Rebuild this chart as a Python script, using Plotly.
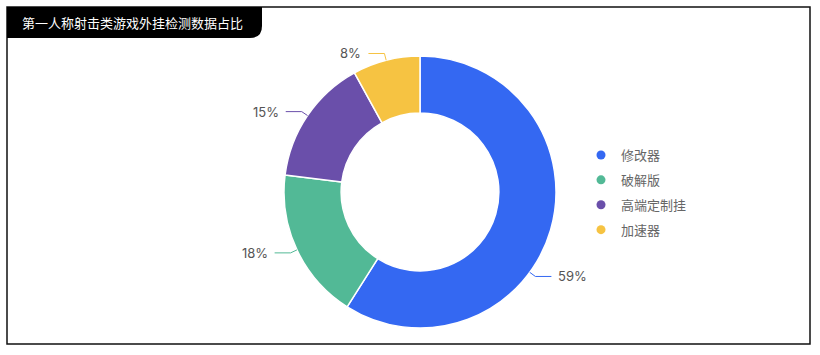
import math
import plotly.graph_objects as go

# ---- data ----
categories = ["修改器", "破解版", "高端定制挂", "加速器"]
values = [59, 18, 15, 8]
colors = ["#3468F2", "#52B996", "#6A4FAA", "#F6C342"]
title_text = "第一人称射击类游戏外挂检测数据占比"

# ---- layout constants ----
W, H = 820, 355
CX, CY, R = 420, 192, 136
HOLE = 0.58
label_angle_shift = [20, 0, 0, 0]  # degrees, nudge of label position (keeps first label clear of legend)
FONT = "Inter, 'Noto Sans CJK SC', sans-serif"


def px(x):
    return x / W


def py(y):
    return 1 - y / H


fig = go.Figure()
fig.add_trace(go.Pie(
    labels=categories, values=values, sort=False, direction="clockwise", rotation=0,
    hole=HOLE, marker=dict(colors=colors, line=dict(color="white", width=1.5)),
    textinfo="none", hoverinfo="label+percent", showlegend=False,
    domain=dict(x=[px(CX - R), px(CX + R)], y=[py(CY + R), py(CY - R)]),
))

# legend entries with round markers
for cat, col in zip(categories, colors):
    fig.add_trace(go.Scatter(x=[None], y=[None], mode="markers", name=cat, legendgroup=cat,
                             marker=dict(color=col, size=9, symbol="circle")))

shapes = []
annotations = []

# leader lines + percentage labels computed from data
total = sum(values)
cum = 0
for v, col, shift in zip(values, colors, label_angle_shift):
    mid = (cum + v / 2) / total
    cum += v
    th = 2 * math.pi * mid + math.radians(shift)
    s, c = math.sin(th), math.cos(th)
    ex, ey = CX + R * s, CY - R * c
    bx, by = CX + (R + 7) * s, CY - (R + 7) * c
    side = 1 if s >= 0 else -1
    tx = bx + side * 16
    shapes.append(dict(type="path", xref="paper", yref="paper",
                       path=f"M {px(ex)},{py(ey)} L {px(bx)},{py(by)} L {px(tx)},{py(by)}",
                       line=dict(color=col, width=1)))
    annotations.append(dict(x=px(tx + side * 5), y=py(by), xref="paper", yref="paper",
                            text=f"{v / total * 100:.0f}%", showarrow=False,
                            xanchor="left" if side > 0 else "right", yanchor="middle",
                            font=dict(size=13, color="#555555", family=FONT)))

# outer frame
shapes.append(dict(type="rect", xref="paper", yref="paper", x0=px(7), x1=px(810), y0=py(344), y1=py(7),
                   line=dict(color="#111111", width=1.5), fillcolor="rgba(0,0,0,0)"))
# title tab with rounded bottom-right corner
shapes.append(dict(type="path", xref="paper", yref="paper",
                   path=(f"M {px(7)},{py(7)} L {px(262)},{py(7)} L {px(262)},{py(26)} "
                         f"Q {px(262)},{py(38)} {px(250)},{py(38)} L {px(7)},{py(38)} Z"),
                   line=dict(width=0), fillcolor="#000000"))
annotations.append(dict(x=px(20), y=py(22.5), xref="paper", yref="paper", text=title_text,
                        showarrow=False, xanchor="left", yanchor="middle",
                        font=dict(size=13, color="white", family=FONT)))

fig.update_layout(
    width=W, height=H, margin=dict(l=0, r=0, t=0, b=0),
    paper_bgcolor="white", plot_bgcolor="white",
    xaxis=dict(visible=False), yaxis=dict(visible=False),
    font=dict(family=FONT),
    shapes=shapes, annotations=annotations,
    legend=dict(x=px(581), y=py(140), xanchor="left", yanchor="top",
                font=dict(size=13, color="#666666", family=FONT),
                tracegroupgap=5, bgcolor="rgba(0,0,0,0)"),
)

fig.write_html("out.html")
